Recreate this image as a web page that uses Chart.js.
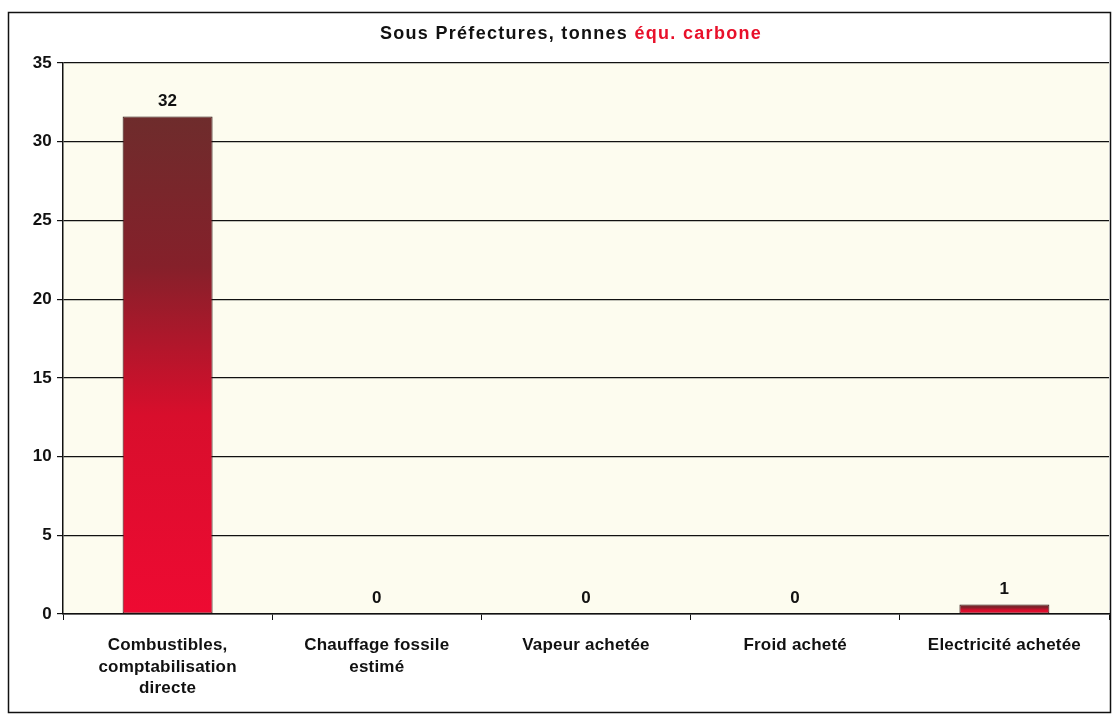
<!DOCTYPE html>
<html>
<head>
<meta charset="utf-8">
<script src="https://cdn.jsdelivr.net/npm/chart.js@4/dist/chart.umd.min.js"></script>
<style>
html,body{margin:0;padding:0;background:#fff;}
#wrap{width:1113px;height:723px;position:relative;}
</style>
</head>
<body>
<div id="wrap"><canvas id="c" width="1113" height="723"></canvas></div>
<script>
const categories = [
  ["Combustibles,", "comptabilisation", "directe"],
  ["Chauffage fossile", "estimé"],
  ["Vapeur achetée"],
  ["Froid acheté"],
  ["Electricité achetée"]
];
const values = [31.6, 0, 0, 0, 0.6];
const valueLabels = ["32", "0", "0", "0", "1"];
const titleBlack = "Sous Préfectures, tonnes ";
const titleRed = "équ. carbone";
const yTicks = [0, 5, 10, 15, 20, 25, 30, 35];

const FONT = "'Liberation Sans', Arial, sans-serif";

const framePlugin = {
  id: 'frame',
  beforeLayout(chart) { chart.ctx.letterSpacing = '0.2px'; },
  beforeDraw(chart) {
    const ctx = chart.ctx, a = chart.chartArea;
    ctx.letterSpacing = '0.2px';
    ctx.save();
    ctx.fillStyle = '#ffffff';
    ctx.fillRect(0, 0, chart.width, chart.height);
    ctx.fillStyle = '#fdfcef';
    ctx.fillRect(a.left, a.top, a.right - a.left, a.bottom - a.top);
    ctx.strokeStyle = '#111';
    ctx.lineWidth = 1.5;
    ctx.strokeRect(8.5, 12.5, 1102, 700);
    // title
    ctx.letterSpacing = '1.3px';
    ctx.font = "bold 18px " + FONT;
    ctx.textBaseline = 'middle';
    const w1 = ctx.measureText(titleBlack).width;
    const w2 = ctx.measureText(titleRed).width;
    const x0 = 571 - (w1 + w2) / 2;
    ctx.textAlign = 'left';
    ctx.fillStyle = '#111';
    ctx.fillText(titleBlack, x0, 34);
    ctx.fillStyle = '#e8102a';
    ctx.fillText(titleRed, x0 + w1, 34);
    ctx.restore();
  },
  afterDatasetsDraw(chart) {
    const ctx = chart.ctx;
    const meta = chart.getDatasetMeta(0);
    ctx.save();
    ctx.font = "bold 17px " + FONT;
    ctx.fillStyle = '#111';
    ctx.textAlign = 'center';
    ctx.textBaseline = 'bottom';
    meta.data.forEach((el, i) => {
      ctx.fillText(valueLabels[i], el.x, el.y - 7);
    });
    ctx.restore();
  }
};

new Chart(document.getElementById('c'), {
  type: 'bar',
  data: {
    labels: categories,
    datasets: [{
      data: values,
      barPercentage: 0.43,
      categoryPercentage: 1.0,
      borderColor: '#2e1010',
      borderWidth: 1,
      borderSkipped: false,
      backgroundColor(c) {
        const chart = c.chart;
        const ys = chart.scales && chart.scales.y;
        if (!ys || c.type !== 'data') return '#c0102a';
        const top = ys.getPixelForValue(c.raw);
        const base = ys.getPixelForValue(0);
        if (!isFinite(top) || !isFinite(base) || base - top < 1) return '#c0102a';
        const g = chart.ctx.createLinearGradient(0, top, 0, base);
        g.addColorStop(0, '#6e2c2c');
        g.addColorStop(0.3, '#85202a');
        g.addColorStop(0.6, '#d80e2c');
        g.addColorStop(1, '#ee0a32');
        return g;
      }
    }]
  },
  options: {
    responsive: false,
    animation: false,
    devicePixelRatio: 1,
    layout: { padding: { left: 0, top: 63, right: 4, bottom: 0 } },
    plugins: {
      legend: { display: false },
      title: { display: false },
      tooltip: { enabled: false }
    },
    scales: {
      x: {
        offset: true,
        grid: { display: true, drawOnChartArea: false, drawTicks: true, tickLength: 6, color: '#111', lineWidth: 1, offset: true },
        border: { display: true, color: '#111', width: 1.5 },
        ticks: {
          color: '#111',
          font: { family: FONT, size: 17, weight: 'bold', lineHeight: 1.25 },
          padding: 15,
          maxRotation: 0,
          autoSkip: false
        },
        afterFit(s) { s.height = 109; }
      },
      y: {
        min: 0,
        max: 35,
        afterBuildTicks(s) { s.ticks = yTicks.map(v => ({ value: v })); },
        grid: { color: '#111', lineWidth: 1.2, tickLength: 6, drawTicks: true },
        border: { display: true, color: '#111', width: 1.5 },
        ticks: {
          color: '#111',
          font: { family: FONT, size: 17, weight: 'bold' },
          padding: 5
        },
        afterFit(s) { s.width = 63; }
      }
    }
  },
  plugins: [framePlugin]
});
</script>
</body>
</html>
